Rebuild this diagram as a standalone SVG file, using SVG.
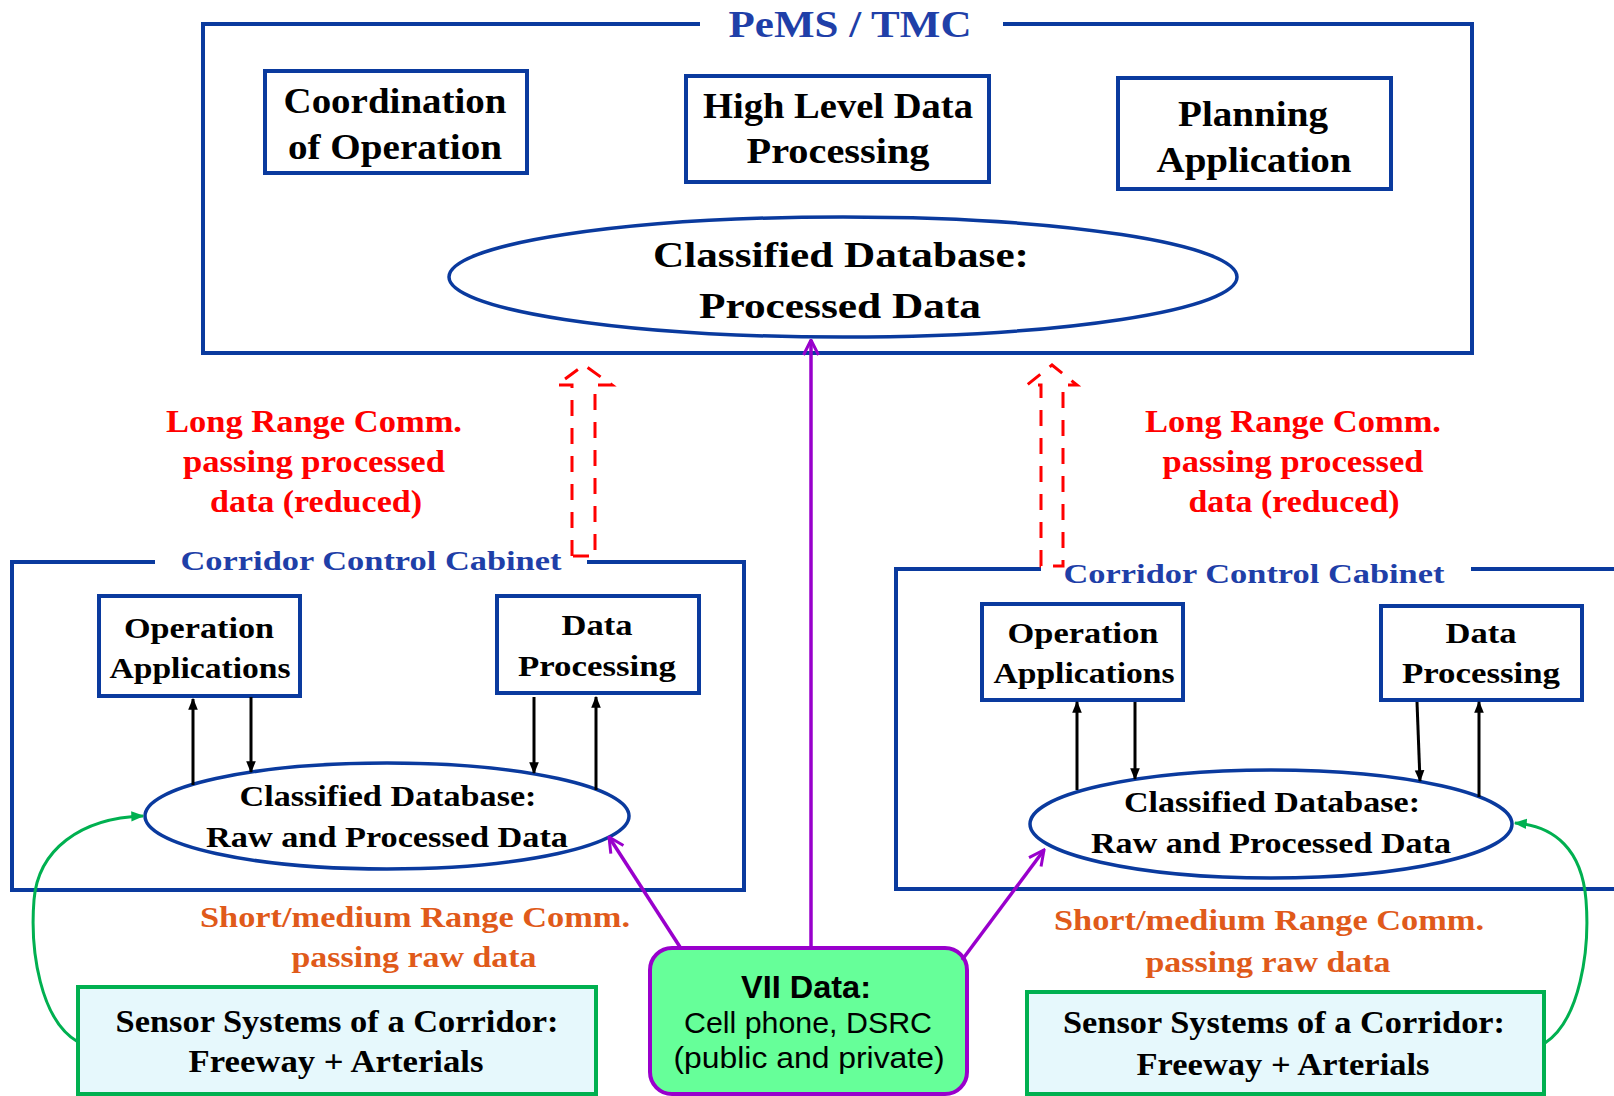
<svg xmlns="http://www.w3.org/2000/svg" width="1614" height="1096" viewBox="0 0 1614 1096">
<defs>
<style>
.s{font-family:"Liberation Serif","Times New Roman",serif;font-weight:bold;text-anchor:middle}
.k{fill:#000}
.bl{fill:#1F3FA8}
.rd{fill:#FF0000}
.or{fill:#E05A1A}
.sans{font-family:"Liberation Sans",Arial,sans-serif;text-anchor:middle;fill:#000}
.box{fill:#fff;stroke:#0A3A9E;stroke-width:4}
.frame{fill:none;stroke:#0A3A9E;stroke-width:4}
.ell{fill:#fff;stroke:#0A3A9E;stroke-width:3.5}
.sensor{fill:#E6F8FC;stroke:#00B050;stroke-width:4}
.blk{fill:none;stroke:#000;stroke-width:3}
.pur{fill:none;stroke:#9900CC;stroke-width:3.5}
.grn{fill:none;stroke:#00B050;stroke-width:3}
.dash{fill:none;stroke:#FF0000;stroke-width:3;stroke-dasharray:16 12}
</style>
<marker id="ab" viewBox="0 0 10 10" refX="9" refY="5" markerWidth="12" markerHeight="12" orient="auto" markerUnits="userSpaceOnUse"><path d="M0,1 L10,5 L0,9 z" fill="#000"/></marker>
<marker id="ap" viewBox="0 0 12 12" refX="11" refY="6" markerWidth="18" markerHeight="18" orient="auto" markerUnits="userSpaceOnUse"><path d="M1,1 L11,6 L1,11" fill="none" stroke="#9900CC" stroke-width="2"/></marker>
<marker id="ag" viewBox="0 0 10 10" refX="9" refY="5" markerWidth="13" markerHeight="13" orient="auto" markerUnits="userSpaceOnUse"><path d="M0,1 L10,5 L0,9 z" fill="#00B050"/></marker>
</defs>
<rect width="1614" height="1096" fill="#fff"/>

<g id="pems">
<path class="frame" d="M700,24 H203 V353 H1472 V24 H1003"/>
<text class="s bl" x="850" y="37" font-size="38" textLength="243" lengthAdjust="spacingAndGlyphs">PeMS / TMC</text>
</g>
<g id="coordination">
<rect class="box" x="265" y="71" width="262" height="102"/>
<text class="s k" x="395" y="113" font-size="35" textLength="223" lengthAdjust="spacingAndGlyphs">Coordination</text>
<text class="s k" x="395" y="159" font-size="35" textLength="214" lengthAdjust="spacingAndGlyphs">of Operation</text>
</g>
<g id="highlevel">
<rect class="box" x="686" y="76" width="303" height="106"/>
<text class="s k" x="838" y="118" font-size="35" textLength="270" lengthAdjust="spacingAndGlyphs">High Level Data</text>
<text class="s k" x="838" y="163" font-size="35" textLength="183" lengthAdjust="spacingAndGlyphs">Processing</text>
</g>
<g id="planning">
<rect class="box" x="1118" y="78" width="273" height="111"/>
<text class="s k" x="1253" y="126" font-size="35" textLength="150" lengthAdjust="spacingAndGlyphs">Planning</text>
<text class="s k" x="1254" y="172" font-size="35" textLength="195" lengthAdjust="spacingAndGlyphs">Application</text>
</g>
<g id="processed-db">
<ellipse class="ell" cx="843" cy="277" rx="394" ry="60"/>
<text class="s k" x="841" y="267" font-size="36" textLength="376" lengthAdjust="spacingAndGlyphs">Classified Database:</text>
<text class="s k" x="840" y="318" font-size="36" textLength="282" lengthAdjust="spacingAndGlyphs">Processed Data</text>
</g>

<g id="left-cabinet">
<path class="frame" d="M155,562 H12 V890 H744 V562 H587"/>
<text class="s bl" x="371" y="570" font-size="28" textLength="381" lengthAdjust="spacingAndGlyphs">Corridor Control Cabinet</text>
</g>
<g id="left-operation">
<rect class="box" x="99" y="596" width="201" height="100"/>
<text class="s k" x="199" y="638" font-size="30" textLength="150" lengthAdjust="spacingAndGlyphs">Operation</text>
<text class="s k" x="200" y="678" font-size="30" textLength="181" lengthAdjust="spacingAndGlyphs">Applications</text>
</g>
<g id="left-dataproc">
<rect class="box" x="497" y="596" width="202" height="97"/>
<text class="s k" x="597" y="635" font-size="30" textLength="71" lengthAdjust="spacingAndGlyphs">Data</text>
<text class="s k" x="597" y="676" font-size="30" textLength="158" lengthAdjust="spacingAndGlyphs">Processing</text>
</g>
<g id="left-db">
<ellipse class="ell" cx="387" cy="816" rx="242" ry="53"/>
<text class="s k" x="388" y="806" font-size="30" textLength="297" lengthAdjust="spacingAndGlyphs">Classified Database:</text>
<text class="s k" x="387" y="847" font-size="30" textLength="362" lengthAdjust="spacingAndGlyphs">Raw and Processed Data</text>
</g>
<g id="left-sensor">
<rect class="sensor" x="78" y="987" width="518" height="107"/>
<text class="s k" x="337" y="1032" font-size="31" textLength="443" lengthAdjust="spacingAndGlyphs">Sensor Systems of a Corridor:</text>
<text class="s k" x="336" y="1072" font-size="31" textLength="295" lengthAdjust="spacingAndGlyphs">Freeway + Arterials</text>
</g>

<g id="right-cabinet">
<path class="frame" d="M1041,569 H896 V889 H1620 M1471,569 H1620"/>
<text class="s bl" x="1254" y="583" font-size="28" textLength="381" lengthAdjust="spacingAndGlyphs">Corridor Control Cabinet</text>
</g>
<g id="right-operation">
<rect class="box" x="982" y="604" width="201" height="96"/>
<text class="s k" x="1083" y="643" font-size="30" textLength="151" lengthAdjust="spacingAndGlyphs">Operation</text>
<text class="s k" x="1084" y="683" font-size="30" textLength="181" lengthAdjust="spacingAndGlyphs">Applications</text>
</g>
<g id="right-dataproc">
<rect class="box" x="1381" y="606" width="201" height="94"/>
<text class="s k" x="1481" y="643" font-size="30" textLength="71" lengthAdjust="spacingAndGlyphs">Data</text>
<text class="s k" x="1481" y="683" font-size="30" textLength="158" lengthAdjust="spacingAndGlyphs">Processing</text>
</g>
<g id="right-db">
<ellipse class="ell" cx="1271" cy="824" rx="241" ry="54"/>
<text class="s k" x="1272" y="812" font-size="30" textLength="296" lengthAdjust="spacingAndGlyphs">Classified Database:</text>
<text class="s k" x="1271" y="853" font-size="30" textLength="360" lengthAdjust="spacingAndGlyphs">Raw and Processed Data</text>
</g>
<g id="right-sensor">
<rect class="sensor" x="1027" y="992" width="517" height="102"/>
<text class="s k" x="1284" y="1033" font-size="31" textLength="442" lengthAdjust="spacingAndGlyphs">Sensor Systems of a Corridor:</text>
<text class="s k" x="1283" y="1075" font-size="31" textLength="293" lengthAdjust="spacingAndGlyphs">Freeway + Arterials</text>
</g>

<g id="vii">
<rect x="650" y="948" width="317" height="146" rx="22" fill="#66FF99" stroke="#9900CC" stroke-width="4"/>
<text class="sans" x="806" y="998" font-size="32" font-weight="bold" textLength="130" lengthAdjust="spacingAndGlyphs">VII Data:</text>
<text class="sans" x="808" y="1033" font-size="30" textLength="248" lengthAdjust="spacingAndGlyphs">Cell phone, DSRC</text>
<text class="sans" x="809" y="1068" font-size="30" textLength="271" lengthAdjust="spacingAndGlyphs">(public and private)</text>
</g>

<g id="labels">
<text class="s rd" x="314" y="432" font-size="31" textLength="296" lengthAdjust="spacingAndGlyphs">Long Range Comm.</text>
<text class="s rd" x="314" y="472" font-size="31" textLength="262" lengthAdjust="spacingAndGlyphs">passing processed</text>
<text class="s rd" x="316" y="512" font-size="31" textLength="212" lengthAdjust="spacingAndGlyphs">data (reduced)</text>
<text class="s rd" x="1293" y="432" font-size="31" textLength="296" lengthAdjust="spacingAndGlyphs">Long Range Comm.</text>
<text class="s rd" x="1293" y="472" font-size="31" textLength="261" lengthAdjust="spacingAndGlyphs">passing processed</text>
<text class="s rd" x="1294" y="512" font-size="31" textLength="211" lengthAdjust="spacingAndGlyphs">data (reduced)</text>
<text class="s or" x="415" y="927" font-size="30" textLength="430" lengthAdjust="spacingAndGlyphs">Short/medium Range Comm.</text>
<text class="s or" x="414" y="967" font-size="30" textLength="245" lengthAdjust="spacingAndGlyphs">passing raw data</text>
<text class="s or" x="1269" y="930" font-size="30" textLength="430" lengthAdjust="spacingAndGlyphs">Short/medium Range Comm.</text>
<text class="s or" x="1268" y="972" font-size="30" textLength="245" lengthAdjust="spacingAndGlyphs">passing raw data</text>
</g>

<g id="connectors">
<polygon class="dash" points="572,556 572,385 557,385 584,365 612,385 595,385 595,556"/>
<polygon class="dash" points="1041,566 1041,385 1027,385 1052,365 1077,385 1063,385 1063,566"/>
<path class="blk" d="M193,785 L193,699" marker-end="url(#ab)"/>
<path class="blk" d="M251,697 L251,772" marker-end="url(#ab)"/>
<path class="blk" d="M534,697 L534,773" marker-end="url(#ab)"/>
<path class="blk" d="M596,790 L596,697" marker-end="url(#ab)"/>
<path class="blk" d="M1077,790 L1077,702" marker-end="url(#ab)"/>
<path class="blk" d="M1135,702 L1135,779" marker-end="url(#ab)"/>
<path class="blk" d="M1417,702 L1420,781" marker-end="url(#ab)"/>
<path class="blk" d="M1479,797 L1479,702" marker-end="url(#ab)"/>
<path class="pur" d="M811,947 L811,340" marker-end="url(#ap)"/>
<path class="pur" d="M680,947 L609,837" marker-end="url(#ap)"/>
<path class="pur" d="M962,960 L1044,850" marker-end="url(#ap)"/>
<path class="grn" d="M78,1042 C40,1020 30,950 34,900 C38,850 80,818 143,816" marker-end="url(#ag)"/>
<path class="grn" d="M1545,1043 C1580,1020 1590,950 1586,900 C1582,850 1555,826 1515,823" marker-end="url(#ag)"/>
</g>
</svg>
